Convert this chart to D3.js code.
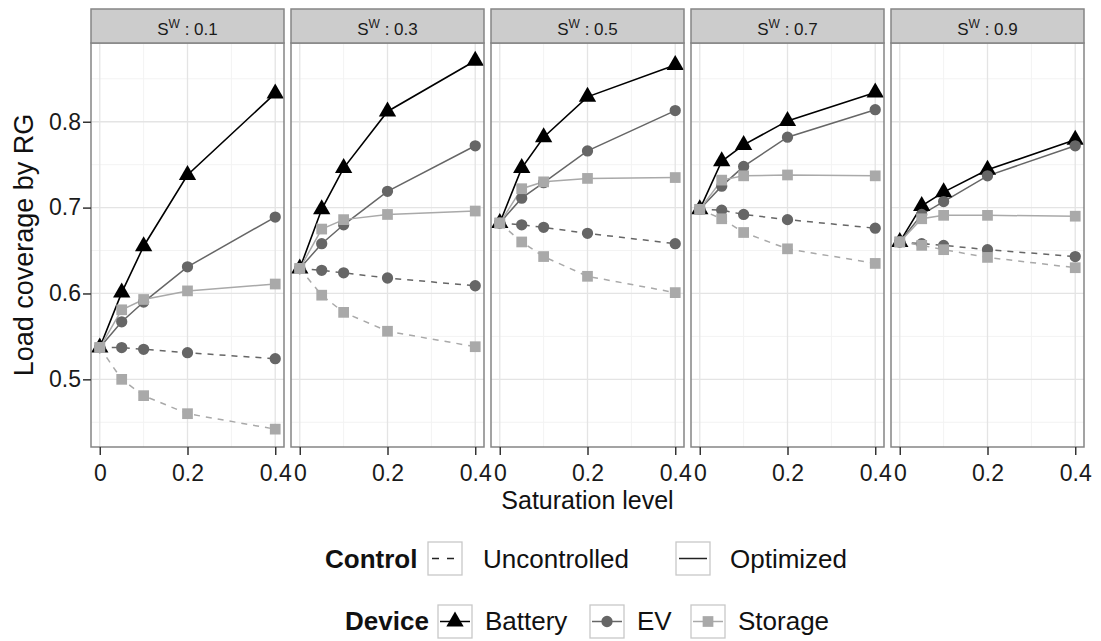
<!DOCTYPE html>
<html>
<head>
<meta charset="utf-8">
<script src="https://cdn.jsdelivr.net/npm/d3@7"></script>
<style>
  body { margin: 0; background: #fff; }
  text { font-family: "Liberation Sans", Arial, Helvetica, sans-serif; }
</style>
</head>
<body>
<div id="chart"></div>
<script>
// facet values (S^W) and x positions
const panelLabels = ["0.1", "0.3", "0.5", "0.7", "0.9"]
const saturation = [0, 0.05, 0.1, 0.2, 0.4]

const xTicks = [0, 0.2, 0.4]
const xTickLabels = ["0", "0.2", "0.4"]
const yTicks = [0.5, 0.6, 0.7, 0.8]
const yTickLabels = ["0.5", "0.6", "0.7", "0.8"]

// one row per panel, one value per saturation level
const batteryOptimized = [
    [0.537, 0.601, 0.655, 0.738, 0.833],
    [0.629, 0.698, 0.746, 0.812, 0.871],
    [0.682, 0.746, 0.782, 0.829, 0.866],
    [0.698, 0.754, 0.773, 0.801, 0.834],
    [0.660, 0.702, 0.718, 0.744, 0.779]
]
const evOptimized = [
    [0.537, 0.567, 0.590, 0.631, 0.689],
    [0.629, 0.658, 0.680, 0.719, 0.772],
    [0.682, 0.711, 0.729, 0.766, 0.813],
    [0.698, 0.725, 0.748, 0.782, 0.814],
    [0.660, 0.692, 0.707, 0.737, 0.772]
]
const storageOptimized = [
    [0.537, 0.581, 0.593, 0.603, 0.611],
    [0.629, 0.675, 0.686, 0.692, 0.696],
    [0.682, 0.722, 0.730, 0.734, 0.735],
    [0.698, 0.732, 0.737, 0.738, 0.737],
    [0.660, 0.687, 0.691, 0.691, 0.690]
]
const evUncontrolled = [
    [0.537, 0.537, 0.535, 0.531, 0.524],
    [0.629, 0.627, 0.624, 0.618, 0.609],
    [0.682, 0.680, 0.677, 0.670, 0.658],
    [0.698, 0.697, 0.692, 0.686, 0.676],
    [0.660, 0.658, 0.656, 0.651, 0.643]
]
const storageUncontrolled = [
    [0.537, 0.500, 0.481, 0.460, 0.442],
    [0.629, 0.598, 0.578, 0.556, 0.538],
    [0.682, 0.660, 0.643, 0.620, 0.601],
    [0.698, 0.687, 0.671, 0.652, 0.635],
    [0.660, 0.656, 0.651, 0.642, 0.630]
]

const devices = ["Battery", "EV", "Storage"]
const controls = ["Uncontrolled", "Optimized"]

const deviceColor = { Battery: '#000000', EV: '#666666', Storage: '#a9a9a9' }
const deviceSymbol = { Battery: d3.symbolTriangle, EV: d3.symbolCircle, Storage: d3.symbolSquare }
const deviceSize = { Battery: 130, EV: 100, Storage: 115 }
const controlDash = { Uncontrolled: '6,6', Optimized: null }

const series = [
    { device: "EV", control: "Uncontrolled", values: evUncontrolled },
    { device: "Storage", control: "Uncontrolled", values: storageUncontrolled },
    { device: "Battery", control: "Optimized", values: batteryOptimized },
    { device: "EV", control: "Optimized", values: evOptimized },
    { device: "Storage", control: "Optimized", values: storageOptimized }
]

const W = 1101, H = 641
const panelTop = 43, panelBottom = 447, stripTop = 9
const panelLeft = 91, panelWidth = 193, panelStep = 200

const svg = d3.select('#chart').append('svg')
    .attr('width', W)
    .attr('height', H)
    .style('background', '#fff')

/*
 * Scales shared by every facet.
 */
const xScale = d3.scaleLinear()
    .domain([-0.02, 0.42])
    .range([0, panelWidth])

const yScale = d3.scaleLinear()
    .domain([0.4212, 0.8917])
    .range([panelBottom, panelTop])

const line = d3.line()
    .x((d, i) => xScale(saturation[i]))
    .y(d => yScale(d))

const xMinor = [0.1, 0.3]
const yMinor = [0.45, 0.55, 0.65, 0.75, 0.85]

panelLabels.forEach(function(label, p) {
    const g = svg.append('g')
        .attr('transform', `translate(${panelLeft + p * panelStep},0)`)

    // grid
    g.selectAll('.minor-x').data(xMinor).enter().append('line')
        .attr('x1', d => xScale(d)).attr('x2', d => xScale(d))
        .attr('y1', panelTop).attr('y2', panelBottom)
        .style('stroke', '#f3f3f3').style('stroke-width', 1)
    g.selectAll('.minor-y').data(yMinor).enter().append('line')
        .attr('x1', 0).attr('x2', panelWidth)
        .attr('y1', d => yScale(d)).attr('y2', d => yScale(d))
        .style('stroke', '#f3f3f3').style('stroke-width', 1)
    g.selectAll('.major-x').data(xTicks).enter().append('line')
        .attr('x1', d => xScale(d)).attr('x2', d => xScale(d))
        .attr('y1', panelTop).attr('y2', panelBottom)
        .style('stroke', '#e4e4e4').style('stroke-width', 1.3)
    g.selectAll('.major-y').data(yTicks).enter().append('line')
        .attr('x1', 0).attr('x2', panelWidth)
        .attr('y1', d => yScale(d)).attr('y2', d => yScale(d))
        .style('stroke', '#e4e4e4').style('stroke-width', 1.3)

    // lines
    series.forEach(function(s) {
        g.append('path')
            .datum(s.values[p])
            .attr('d', line)
            .style('fill', 'none')
            .style('stroke', deviceColor[s.device])
            .style('stroke-width', s.device === 'Battery' ? 1.6 : 1.5)
            .style('stroke-dasharray', controlDash[s.control])
    })

    // points, battery first so storage ends on top
    devices.forEach(function(dev) {
        series.filter(s => s.device === dev).forEach(function(s) {
            g.selectAll(null).data(s.values[p]).enter().append('path')
                .attr('transform', (d, i) => `translate(${xScale(saturation[i])},${yScale(d)})`)
                .attr('d', d3.symbol().type(deviceSymbol[dev]).size(deviceSize[dev]))
                .style('fill', deviceColor[dev])
        })
    })

    // panel border
    g.append('rect')
        .attr('x', 0).attr('y', panelTop)
        .attr('width', panelWidth).attr('height', panelBottom - panelTop)
        .style('fill', 'none').style('stroke', '#858585').style('stroke-width', 1.5)

    // strip
    g.append('rect')
        .attr('x', 0).attr('y', stripTop)
        .attr('width', panelWidth).attr('height', panelTop - stripTop)
        .style('fill', '#cccccc').style('stroke', '#858585').style('stroke-width', 1.5)

    const st = g.append('text')
        .attr('x', panelWidth / 2)
        .attr('y', 35)
        .attr('text-anchor', 'middle')
        .style('font-size', '17px')
        .style('fill', '#1a1a1a')
    st.append('tspan').text('S')
    st.append('tspan').attr('dy', -7).style('font-size', '12px').text('W')
    st.append('tspan').attr('dy', 7).text(' : ' + label)

    // x axis
    const xAxis = d3.axisBottom(xScale)
        .tickValues(xTicks)
        .tickFormat((d, i) => xTickLabels[i])
        .tickSize(8)
        .tickPadding(10)

    const xa = g.append('g')
        .attr('class', 'x axis')
        .attr('transform', `translate(0,${panelBottom})`)
        .call(xAxis)
    xa.select('.domain').remove()
    xa.selectAll('line').style('stroke', '#333').style('stroke-width', 1.5)
    xa.selectAll('text').style('font-size', '23px').style('fill', '#1a1a1a')
        .style('font-family', '"Liberation Sans", Arial, sans-serif')

    // y axis only on the first facet
    if (p === 0) {
        const yAxis = d3.axisLeft(yScale)
            .tickValues(yTicks)
            .tickFormat((d, i) => yTickLabels[i])
            .tickSize(8)
            .tickPadding(2)
        const ya = g.append('g')
            .attr('class', 'y axis')
            .call(yAxis)
        ya.select('.domain').remove()
        ya.selectAll('line').style('stroke', '#333').style('stroke-width', 1.5)
        ya.selectAll('text').style('font-size', '23px').style('fill', '#1a1a1a')
            .style('font-family', '"Liberation Sans", Arial, sans-serif')
    }
})

/*
 * Axis titles
 */
const panelsMid = panelLeft + (panelStep * (panelLabels.length - 1) + panelWidth) / 2

svg.append('text')
    .attr('x', panelsMid)
    .attr('y', 509)
    .attr('text-anchor', 'middle')
    .style('font-size', '25px')
    .style('fill', '#111')
    .text('Saturation level')

svg.append('text')
    .attr('transform', `translate(33,${(panelTop + panelBottom) / 2}) rotate(-90)`)
    .attr('text-anchor', 'middle')
    .style('font-size', '27px')
    .style('fill', '#111')
    .text('Load coverage by RG')

/*
 * Legends
 */
function keyBox(x, y) {
    return svg.append('rect')
        .attr('x', x).attr('y', y)
        .attr('width', 34).attr('height', 33)
        .style('fill', '#fff').style('stroke', '#c8c8c8').style('stroke-width', 1.3)
}

function legendText(x, y, txt, bold) {
    svg.append('text')
        .attr('x', x).attr('y', y)
        .style('font-size', '26px')
        .style('font-weight', bold ? 'bold' : 'normal')
        .style('fill', '#111')
        .text(txt)
}

// Control
legendText(325, 568, 'Control', true)
const controlKeyX = [428, 676]
const controlLabelX = [483, 730]
controls.forEach(function(c, i) {
    keyBox(controlKeyX[i], 542)
    svg.append('line')
        .attr('x1', controlKeyX[i] + 3).attr('x2', controlKeyX[i] + 31)
        .attr('y1', 558.5).attr('y2', 558.5)
        .style('stroke', '#222').style('stroke-width', 1.5)
        .style('stroke-dasharray', c === 'Uncontrolled' ? '7,8' : null)
        .style('stroke-dashoffset', c === 'Uncontrolled' ? -1 : null)
    legendText(controlLabelX[i], 568, c, false)
})

// Device
legendText(345, 630, 'Device', true)
const deviceKeyX = [438, 590, 691]
const deviceLabelX = [485, 637, 738]
devices.forEach(function(dev, i) {
    keyBox(deviceKeyX[i], 605)
    svg.append('line')
        .attr('x1', deviceKeyX[i] + 2).attr('x2', deviceKeyX[i] + 32)
        .attr('y1', 621.5).attr('y2', 621.5)
        .style('stroke', deviceColor[dev]).style('stroke-width', 1.5)
    svg.append('path')
        .attr('transform', `translate(${deviceKeyX[i] + 17},621.5)`)
        .attr('d', d3.symbol().type(deviceSymbol[dev]).size(deviceSize[dev]))
        .style('fill', deviceColor[dev])
    legendText(deviceLabelX[i], 630, dev, false)
})
</script>
</body>
</html>
